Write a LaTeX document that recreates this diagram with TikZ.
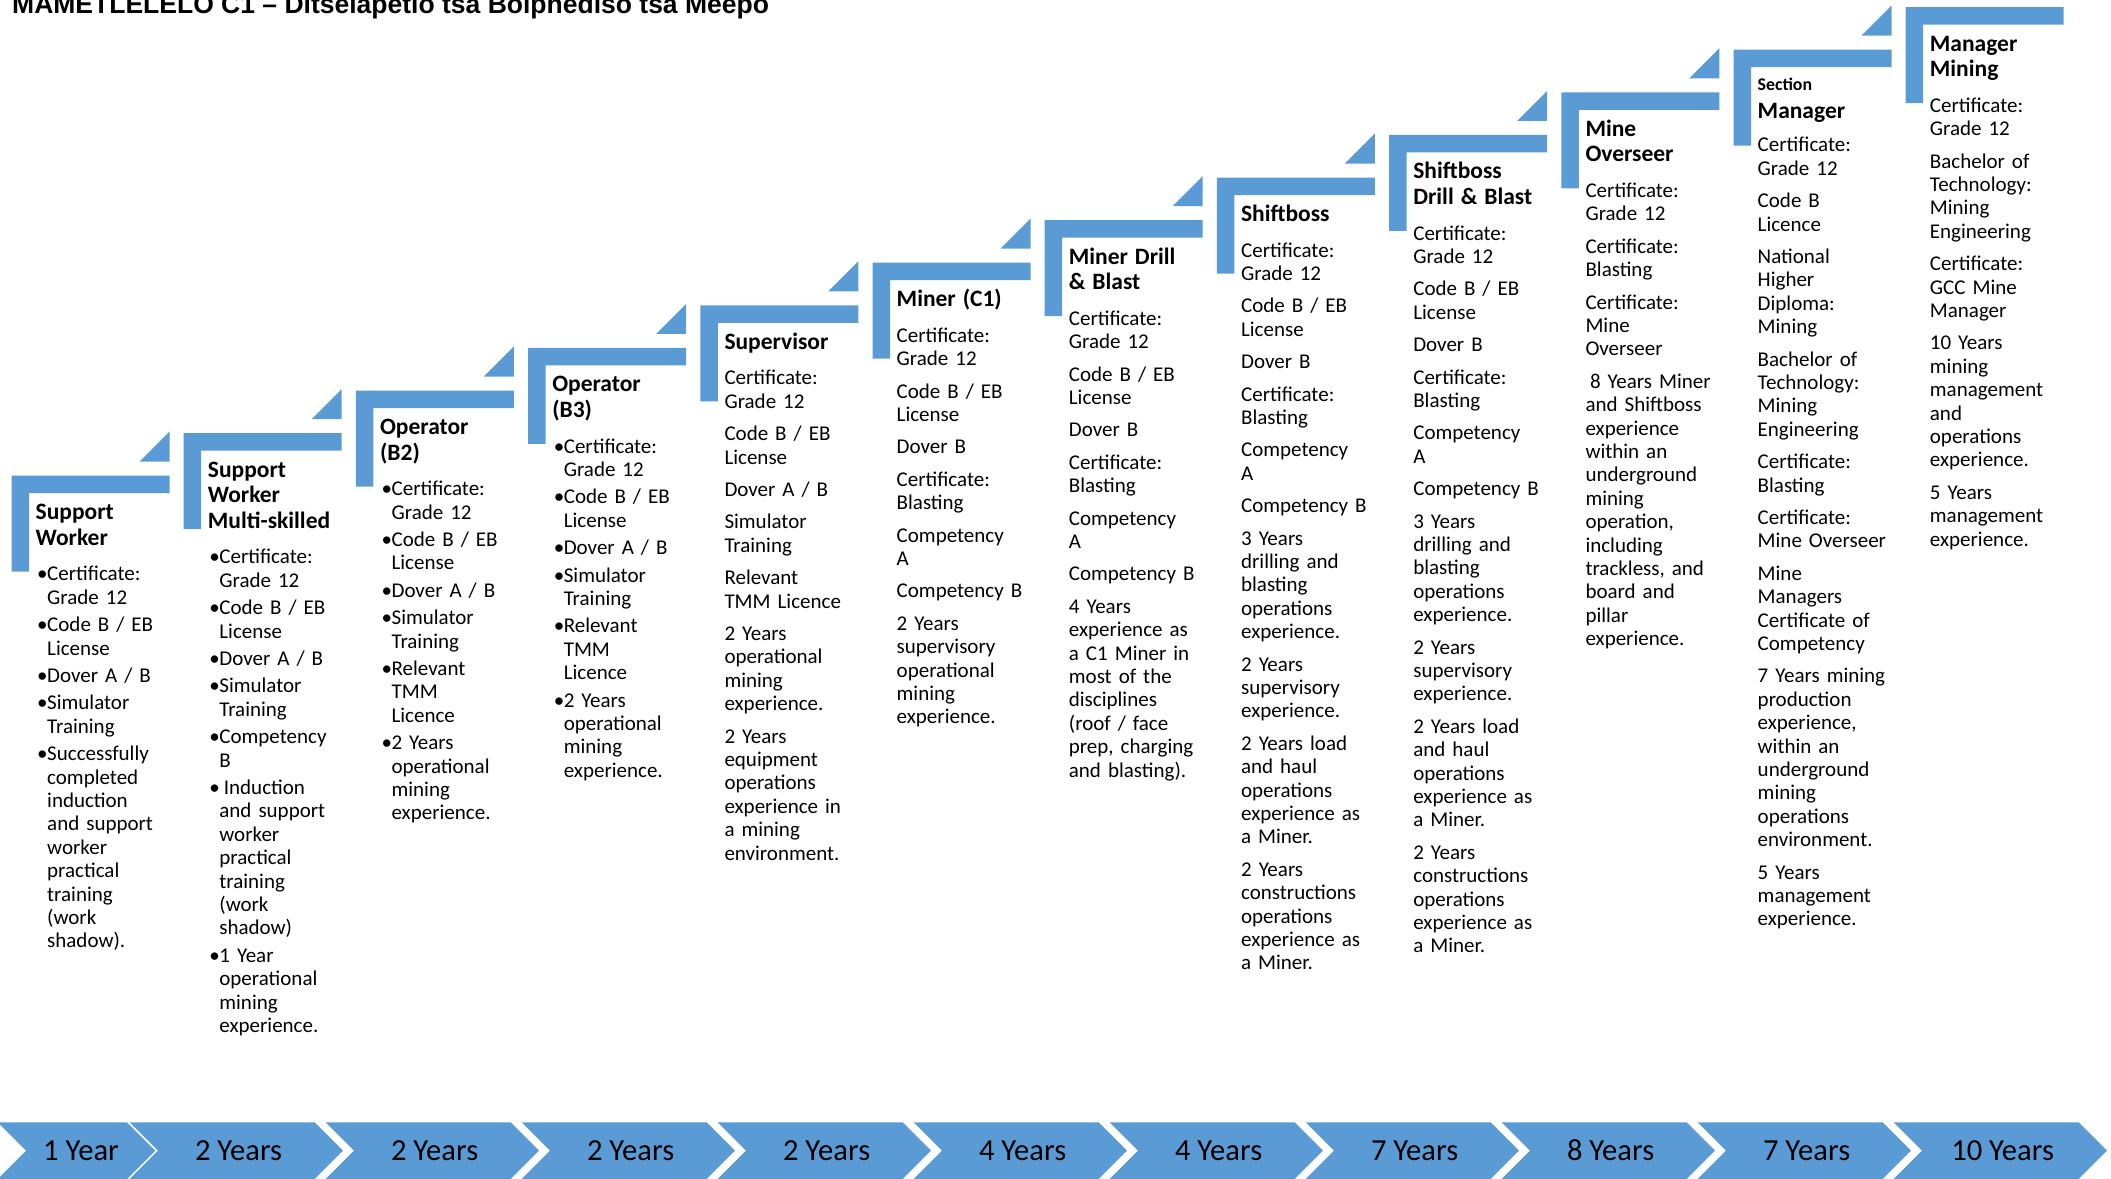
\documentclass[tikz,border=0pt]{standalone}
\usepackage{fontspec}
\setmainfont{Carlito}
\newfontfamily\titlefont{Liberation Sans}
\definecolor{stepblue}{HTML}{5B9BD5}
\newcommand\bodysize{\fontsize{21}{23.4}\selectfont}
\newcommand\hdsize{\fontsize{23.5}{25.6}\selectfont\bfseries}
\newlength\hdgap
\def\NL{\unskip\hfil\break}
\newcommand\HD[1]{{\hdsize #1\par}\vspace{\hdgap}}
\newcommand\BI[1]{\noindent\hangindent=11.5pt\hangafter=1\relax\makebox[11.5pt][l]{\hspace{1.5pt}\textbullet}{\let\\\NL #1}\par}
\newcommand\PI[1]{\noindent{\let\\\NL #1}\par}
\begin{document}
\begin{tikzpicture}[x=1pt,y=-1pt,
  stepbar/.style={fill=stepblue,draw=none},
  chevshape/.style={fill=stepblue,draw=none},
  plaintext/.style={anchor=base west,inner sep=0pt,text width=140pt,font=\bodysize,
    execute at begin node={\setlength\parskip{9pt}\setlength\hdgap{3.1pt}}},
  bullettext/.style={anchor=base west,inner sep=0pt,text width=140pt,font=\bodysize,
    execute at begin node={\setlength\parskip{4pt}\setlength\hdgap{8.1pt}}},
  chevlabel/.style={anchor=base,inner sep=0pt,font=\fontsize{30.6}{36}\selectfont},
  titletext/.style={anchor=base west,inner sep=0pt,font=\titlefont\bfseries\fontsize{26.5}{30}\selectfont}]
\useasboundingbox (0,0) rectangle (2111,1178);
\clip (0,0) rectangle (2111,1178);
% step brackets and triangles
\foreach \i in {0,...,11}{
  \pgfmathsetmacro\xx{11.5+172.2*\i}
  \pgfmathsetmacro\yy{475.7-42.6*\i}
  \fill[stepbar] (\xx,\yy) -- ++(158,0) -- ++(0,17.5) -- ++(-140.5,0) -- ++(0,78.5) -- ++(-17.5,0) -- cycle;
  \ifnum\i<11
    \fill[stepbar] (\xx+128,\yy-14) -- (\xx+158,\yy-44) -- (\xx+158,\yy-14) -- cycle;
  \fi
  \coordinate (t\i) at (\xx+24,\yy+44);
}
% chevrons
\fill[chevshape] (-2.3,1122.3) -- (127,1122.3) -- (155.4,1150.7) -- (127,1179.1) -- (-2.3,1179.1) -- (26.1,1150.7) -- cycle;
\node[chevlabel] (c1) at (81,1160.7) {1 Year};
\foreach \k/\lab [count=\n from 2] in {0/2 Years,1/2 Years,2/2 Years,3/2 Years,4/4 Years,5/4 Years,6/7 Years,7/8 Years,8/7 Years,9/10 Years}{
  \pgfmathsetmacro\cx{129.6+196*\k}
  \fill[chevshape] (\cx,1122.3) -- ++(185,0) -- ++(28.4,28.4) -- ++(-28.4,28.4) -- ++(-185,0) -- ++(28.4,-28.4) -- cycle;
  \node[chevlabel] (c\n) at (\cx+109,1160.7) {\lab};
}
% title
\node[titletext] (title) at (12,13) {MAMETLELELO C1 – Ditselapetlo tsa Bolphediso tsa Meepo};
% step texts
\node[bullettext] (s0) at (t0) {\HD{Support\\Worker}
\BI{Certificate:\\Grade 12}
\BI{Code B / EB\\License}
\BI{Dover A / B}
\BI{Simulator\\Training}
\BI{Successfully\\completed\\induction\\and support\\worker\\practical\\training\\(work\\shadow).}};
\node[bullettext] (s1) at (t1) {\HD{Support\\Worker\\Multi-skilled}
\BI{Certificate:\\Grade 12}
\BI{Code B / EB\\License}
\BI{Dover A / B}
\BI{Simulator\\Training}
\BI{Competency\\B}
\BI{\hspace{4.5pt}Induction\\and support\\worker\\practical\\training\\(work\\shadow)}
\BI{1 Year\\operational\\mining\\experience.}};
\node[bullettext] (s2) at (t2) {\HD{Operator\\(B2)}
\BI{Certificate:\\Grade 12}
\BI{Code B / EB\\License}
\BI{Dover A / B}
\BI{Simulator\\Training}
\BI{Relevant\\TMM\\Licence}
\BI{2 Years\\operational\\mining\\experience.}};
\node[bullettext] (s3) at (t3) {\HD{Operator\\(B3)}
\BI{Certificate:\\Grade 12}
\BI{Code B / EB\\License}
\BI{Dover A / B}
\BI{Simulator\\Training}
\BI{Relevant\\TMM\\Licence}
\BI{2 Years\\operational\\mining\\experience.}};
\node[plaintext] (s4) at (t4) {\HD{Supervisor}
\PI{Certificate:\\Grade 12}
\PI{Code B / EB\\License}
\PI{Dover A / B}
\PI{Simulator\\Training}
\PI{Relevant\\TMM Licence}
\PI{2 Years\\operational\\mining\\experience.}
\PI{2 Years\\equipment\\operations\\experience in\\a mining\\environment.}};
\node[plaintext] (s5) at (t5) {\HD{Miner (C1)}
\PI{Certificate:\\Grade 12}
\PI{Code B / EB\\License}
\PI{Dover B}
\PI{Certificate:\\Blasting}
\PI{Competency\\A}
\PI{Competency B}
\PI{2 Years\\supervisory\\operational\\mining\\experience.}};
\node[plaintext] (s6) at (t6) {\HD{Miner Drill\\\& Blast}
\PI{Certificate:\\Grade 12}
\PI{Code B / EB\\License}
\PI{Dover B}
\PI{Certificate:\\Blasting}
\PI{Competency\\A}
\PI{Competency B}
\PI{4 Years\\experience as\\a C1 Miner in\\most of the\\disciplines\\(roof / face\\prep, charging\\and blasting).}};
\node[plaintext] (s7) at (t7) {\HD{Shiftboss}
\PI{Certificate:\\Grade 12}
\PI{Code B / EB\\License}
\PI{Dover B}
\PI{Certificate:\\Blasting}
\PI{Competency\\A}
\PI{Competency B}
\PI{3 Years\\drilling and\\blasting\\operations\\experience.}
\PI{2 Years\\supervisory\\experience.}
\PI{2 Years load\\and haul\\operations\\experience as\\a Miner.}
\PI{2 Years\\constructions\\operations\\experience as\\a Miner.}};
\node[plaintext] (s8) at (t8) {\HD{Shiftboss\\Drill \& Blast}
\PI{Certificate:\\Grade 12}
\PI{Code B / EB\\License}
\PI{Dover B}
\PI{Certificate:\\Blasting}
\PI{Competency\\A}
\PI{Competency B}
\PI{3 Years\\drilling and\\blasting\\operations\\experience.}
\PI{2 Years\\supervisory\\experience.}
\PI{2 Years load\\and haul\\operations\\experience as\\a Miner.}
\PI{2 Years\\constructions\\operations\\experience as\\a Miner.}};
\node[plaintext] (s9) at (t9) {\HD{Mine\\Overseer}
\PI{Certificate:\\Grade 12}
\PI{Certificate:\\Blasting}
\PI{Certificate:\\Mine\\Overseer}
\PI{\hspace{4.5pt}8 Years Miner\\and Shiftboss\\experience\\within an\\underground\\mining\\operation,\\including\\trackless, and\\board and\\pillar\\experience.}};
\node[plaintext] (s10) at (1757.5,90.7) {\HD{{\fontsize{17.8}{20}\selectfont Section}\\[2pt]Manager}\vspace{-2pt}
\PI{Certificate:\\Grade 12}
\PI{Code B\\Licence}
\PI{National\\Higher\\Diploma:\\Mining}
\PI{Bachelor of\\Technology:\\Mining\\Engineering}
\PI{Certificate:\\Blasting}
\PI{Certificate:\\Mine Overseer}
\PI{Mine\\Managers\\Certificate of\\Competency}
\PI{7 Years mining\\production\\experience,\\within an\\underground\\mining\\operations\\environment.}
\PI{5 Years\\management\\experience.}};
\node[plaintext] (s11) at (t11) {\HD{Manager\\Mining}
\PI{Certificate:\\Grade 12}
\PI{Bachelor of\\Technology:\\Mining\\Engineering}
\PI{Certificate:\\GCC Mine\\Manager}
\PI{10 Years\\mining\\management\\and\\operations\\experience.}
\PI{5 Years\\management\\experience.}};
\end{tikzpicture}
\end{document}
